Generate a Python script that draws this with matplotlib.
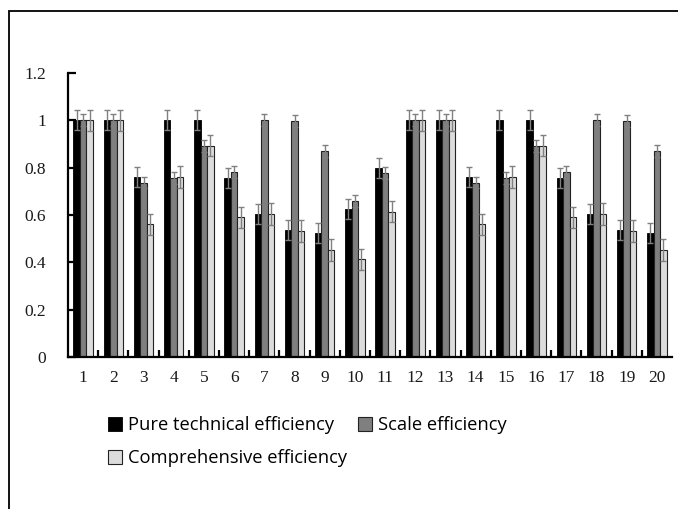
import matplotlib
matplotlib.use("Agg")
import matplotlib.pyplot as plt
import numpy as np
from matplotlib.patches import Rectangle

# data
dmu = [str(i) for i in range(1, 21)]
pure_tech = [1.0, 1.0, 0.76, 1.0, 1.0, 0.755, 0.605, 0.537, 0.523, 0.624,
             0.797, 1.0, 1.0, 0.76, 1.0, 1.0, 0.755, 0.605, 0.537, 0.523]
scale_eff = [1.0, 1.0, 0.737, 0.757, 0.893, 0.78, 1.0, 0.997, 0.87, 0.66,
             0.776, 1.0, 1.0, 0.737, 0.757, 0.893, 0.78, 1.0, 0.997, 0.87]
compre_eff = [1.0, 1.0, 0.56, 0.76, 0.893, 0.59, 0.604, 0.532, 0.452, 0.413,
              0.614, 1.0, 1.0, 0.56, 0.76, 0.893, 0.59, 0.604, 0.532, 0.452]
err_pure = 0.042
err_scale = 0.025
err_compre = 0.045

plt.rcParams["font.family"] = "Liberation Serif"

W, H = 678, 509
fig = plt.figure(figsize=(W / 100, H / 100), dpi=100)
ax = fig.add_axes([68 / W, 1 - 357 / H, 604 / W, 284 / H])

x = np.arange(1, 21)
bw = 0.215
ekw = dict(ecolor="#808080", elinewidth=1.0, capsize=2.3, capthick=1.0)

ax.bar(x - bw, pure_tech, bw, color="black", edgecolor="black", linewidth=0.6,
       yerr=err_pure, error_kw=ekw, label="Pure technical efficiency")
ax.bar(x, scale_eff, bw, color="#7f7f7f", edgecolor="#222222", linewidth=0.8,
       yerr=err_scale, error_kw=ekw, label="Scale efficiency")
ax.bar(x + bw, compre_eff, bw, color="#dcdcdc", edgecolor="#222222", linewidth=0.8,
       yerr=err_compre, error_kw=ekw, label="Comprehensive efficiency")

ax.set_xlim(0.5, 20.5)
ax.set_ylim(0, 1.2)
ax.set_yticks(np.arange(0, 1.21, 0.2))
ax.set_yticklabels(["0", "0.2", "0.4", "0.6", "0.8", "1", "1.2"])
ax.set_xticks(x)
ax.set_xticklabels(dmu)
ax.set_xticks(np.arange(1.5, 20.5, 1), minor=True)

for s in ["top", "right"]:
    ax.spines[s].set_visible(False)
for s in ["left", "bottom"]:
    ax.spines[s].set_linewidth(1.6)

ax.tick_params(axis="y", direction="in", length=6, width=1.6, pad=16,
               labelsize=12.5, labelcolor="#1a1a1a")
ax.tick_params(axis="x", which="major", length=0, pad=9,
               labelsize=12.5, labelcolor="#1a1a1a")
ax.tick_params(axis="x", which="minor", direction="in", length=5, width=1.6)

h, l = ax.get_legend_handles_labels()
order = [0, 2, 1]
leg = fig.legend([h[i] for i in order], [l[i] for i in order], ncol=2,
                 loc="upper left", bbox_to_anchor=(91 / W, 1 - 400 / H),
                 frameon=False, handlelength=0.8, handleheight=0.8,
                 handletextpad=0.3, columnspacing=0.6, labelspacing=0.8,
                 prop={"family": "Open Sans", "size": 13.2})

# outer frame (only left and top edges visible)
fig.add_artist(Rectangle((8.5 / W, -0.2), 2.0, 1.2 - 10.5 / H,
                         transform=fig.transFigure, fill=False,
                         edgecolor="black", linewidth=1.3))

fig.savefig("out.png", dpi=100)
